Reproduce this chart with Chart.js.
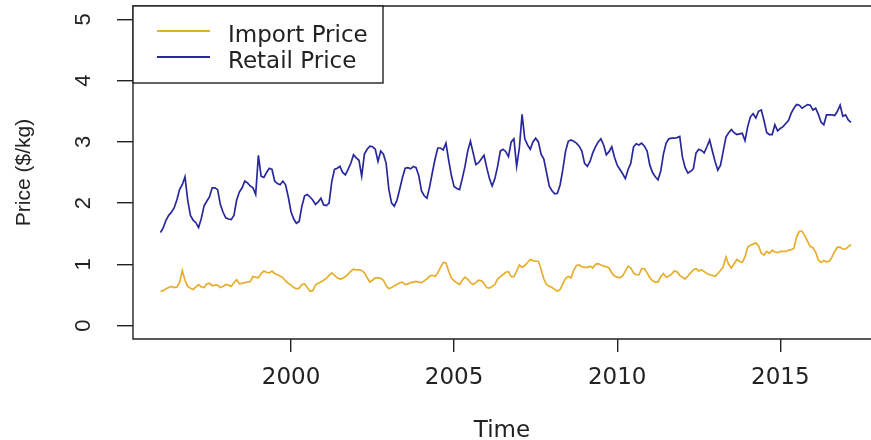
<!DOCTYPE html>
<html>
<head>
<meta charset="utf-8">
<title>Import and Retail Price</title>
<script src="https://cdn.jsdelivr.net/npm/chart.js@4.4.1/dist/chart.umd.min.js"></script>
<style>
  html, body { margin: 0; padding: 0; background: #fff; }
  #chart-wrap { width: 871px; height: 440px; }
</style>
</head>
<body>
<div id="chart-wrap"><canvas id="priceChart" width="871" height="440"></canvas></div>
<script>
// Monthly series, Jan 1996 - Mar 2017 ($/kg)
const startYear = 1996;

const retailPrice = [
    1.52, 1.60, 1.72, 1.80, 1.85, 1.92, 2.05, 2.22, 2.30, 2.43, 2.05, 1.80, // 1996
    1.72, 1.68, 1.60, 1.75, 1.95, 2.03, 2.10, 2.25, 2.25, 2.22, 1.98, 1.85, // 1997
    1.76, 1.74, 1.73, 1.80, 2.05, 2.18, 2.25, 2.36, 2.33, 2.28, 2.25, 2.14, // 1998
    2.78, 2.44, 2.42, 2.50, 2.57, 2.55, 2.36, 2.32, 2.30, 2.36, 2.30, 2.10, // 1999
    1.86, 1.74, 1.67, 1.70, 1.95, 2.12, 2.14, 2.10, 2.05, 1.98, 2.02, 2.08, // 2000
    1.97, 1.96, 2.00, 2.35, 2.55, 2.57, 2.60, 2.50, 2.46, 2.55, 2.65, 2.79, // 2001
    2.74, 2.70, 2.44, 2.80, 2.88, 2.93, 2.92, 2.88, 2.68, 2.85, 2.80, 2.65, // 2002
    2.22, 2.00, 1.95, 2.05, 2.23, 2.42, 2.57, 2.58, 2.56, 2.60, 2.58, 2.45, // 2003
    2.20, 2.12, 2.08, 2.27, 2.50, 2.72, 2.90, 2.90, 2.87, 2.98, 2.70, 2.45, // 2004
    2.27, 2.24, 2.22, 2.40, 2.60, 2.85, 3.01, 2.82, 2.63, 2.66, 2.72, 2.78, // 2005
    2.58, 2.40, 2.28, 2.40, 2.60, 2.85, 2.88, 2.84, 2.76, 3.00, 3.05, 2.60, // 2006
    2.90, 3.45, 3.05, 2.95, 2.88, 3.00, 3.06, 3.00, 2.80, 2.72, 2.50, 2.28, // 2007
    2.20, 2.15, 2.16, 2.30, 2.55, 2.85, 3.01, 3.03, 3.01, 2.98, 2.93, 2.85, // 2008
    2.65, 2.60, 2.68, 2.82, 2.92, 3.00, 3.05, 2.95, 2.79, 2.84, 2.92, 2.75, // 2009
    2.62, 2.55, 2.48, 2.40, 2.55, 2.65, 2.92, 2.97, 2.95, 2.98, 2.93, 2.85, // 2010
    2.62, 2.50, 2.43, 2.38, 2.52, 2.80, 2.98, 3.05, 3.06, 3.06, 3.07, 3.09, // 2011
    2.75, 2.58, 2.49, 2.52, 2.56, 2.82, 2.88, 2.86, 2.82, 2.92, 3.03, 2.85, // 2012
    2.68, 2.54, 2.62, 2.85, 3.08, 3.15, 3.20, 3.15, 3.12, 3.13, 3.14, 3.02, // 2013
    3.25, 3.41, 3.46, 3.39, 3.50, 3.52, 3.35, 3.15, 3.12, 3.12, 3.28, 3.18, // 2014
    3.22, 3.25, 3.30, 3.35, 3.47, 3.55, 3.61, 3.60, 3.55, 3.58, 3.61, 3.60, // 2015
    3.52, 3.55, 3.45, 3.32, 3.28, 3.44, 3.44, 3.44, 3.43, 3.50, 3.60, 3.42, // 2016
    3.44, 3.36, 3.32                                                        // 2017
];

const importPrice = [
    0.56, 0.57, 0.60, 0.62, 0.64, 0.62, 0.63, 0.70, 0.90, 0.74, 0.64, 0.61, // 1996
    0.59, 0.63, 0.67, 0.63, 0.62, 0.68, 0.69, 0.65, 0.66, 0.66, 0.62, 0.64, // 1997
    0.67, 0.66, 0.64, 0.70, 0.75, 0.68, 0.69, 0.70, 0.71, 0.72, 0.80, 0.79, // 1998
    0.78, 0.85, 0.89, 0.87, 0.86, 0.89, 0.85, 0.83, 0.81, 0.78, 0.73, 0.69, // 1999
    0.66, 0.62, 0.60, 0.61, 0.67, 0.68, 0.62, 0.56, 0.57, 0.66, 0.69, 0.71, // 2000
    0.74, 0.77, 0.82, 0.86, 0.82, 0.78, 0.76, 0.77, 0.80, 0.84, 0.89, 0.92, // 2001
    0.91, 0.91, 0.90, 0.86, 0.78, 0.71, 0.74, 0.78, 0.78, 0.77, 0.74, 0.65, // 2002
    0.60, 0.62, 0.65, 0.67, 0.70, 0.71, 0.67, 0.68, 0.70, 0.71, 0.72, 0.71, // 2003
    0.70, 0.73, 0.76, 0.81, 0.82, 0.80, 0.86, 0.95, 1.03, 1.02, 0.89, 0.78, // 2004
    0.73, 0.70, 0.67, 0.74, 0.79, 0.76, 0.70, 0.67, 0.70, 0.74, 0.73, 0.69, // 2005
    0.62, 0.61, 0.64, 0.67, 0.76, 0.80, 0.83, 0.87, 0.88, 0.80, 0.80, 0.89, // 2006
    0.99, 0.95, 0.98, 1.03, 1.08, 1.06, 1.05, 1.05, 0.92, 0.76, 0.67, 0.64, // 2007
    0.62, 0.59, 0.56, 0.59, 0.68, 0.77, 0.80, 0.78, 0.90, 0.98, 0.99, 0.96, // 2008
    0.95, 0.95, 0.97, 0.94, 1.00, 1.01, 0.99, 0.97, 0.96, 0.94, 0.86, 0.81, // 2009
    0.79, 0.78, 0.81, 0.89, 0.97, 0.94, 0.86, 0.83, 0.83, 0.93, 0.93, 0.86, // 2010
    0.78, 0.73, 0.71, 0.71, 0.80, 0.85, 0.79, 0.81, 0.84, 0.89, 0.88, 0.82, // 2011
    0.79, 0.76, 0.81, 0.86, 0.91, 0.93, 0.89, 0.91, 0.88, 0.85, 0.83, 0.82, // 2012
    0.80, 0.85, 0.90, 0.96, 1.12, 1.00, 0.94, 1.01, 1.08, 1.05, 1.03, 1.12, // 2013
    1.28, 1.31, 1.33, 1.35, 1.30, 1.18, 1.15, 1.21, 1.18, 1.23, 1.20, 1.19, // 2014
    1.21, 1.21, 1.21, 1.23, 1.24, 1.26, 1.45, 1.54, 1.54, 1.47, 1.38, 1.29, // 2015
    1.27, 1.20, 1.07, 1.03, 1.06, 1.04, 1.05, 1.12, 1.21, 1.28, 1.28, 1.25, // 2016
    1.25, 1.29, 1.32                                                        // 2017
];

const xTicks = [2000, 2005, 2010, 2015];
const yTicks = [0, 1, 2, 3, 4, 5];

const seriesLabels = ['Import Price', 'Retail Price'];
const seriesColors = ['#E6AE2E', '#28289C'];

const axisColor = '#222';
const textColor = '#222';

/**
 * Turn a monthly value list into {x, y} points (x = decimal year)
 */
function toPoints(values) {
    return values.map((v, i) => ({ x: startYear + i / 12, y: v }));
}

/**
 * R style box around the plot region (right side runs off the image)
 */
const plotFrame = {
    id: 'plotFrame',
    afterDraw(chart) {
        const { ctx, chartArea: a } = chart;
        ctx.save();
        ctx.strokeStyle = axisColor;
        ctx.lineWidth = 1.4;
        ctx.beginPath();
        ctx.moveTo(a.right + 2, a.top);
        ctx.lineTo(a.left, a.top);
        ctx.lineTo(a.left, a.bottom);
        ctx.lineTo(a.right + 2, a.bottom);
        ctx.stroke();
        ctx.restore();
    }
};

/**
 * Legend box in the top left corner
 */
const legendBox = {
    id: 'legendBox',
    afterDraw(chart) {
        const { ctx, chartArea: a } = chart;
        ctx.save();
        ctx.fillStyle = '#fff';
        ctx.fillRect(a.left, a.top, 250, 77);
        ctx.strokeStyle = axisColor;
        ctx.lineWidth = 1.4;
        ctx.strokeRect(a.left, a.top, 250, 77);

        ctx.font = '23px "DejaVu Sans"';
        ctx.textBaseline = 'alphabetic';
        ctx.textAlign = 'left';
        chart.data.datasets.forEach((ds, i) => {
            const y = a.top + 25 + i * 26;
            ctx.strokeStyle = ds.borderColor;
            ctx.lineWidth = 1.8;
            ctx.beginPath();
            ctx.moveTo(a.left + 24, y);
            ctx.lineTo(a.left + 77, y);
            ctx.stroke();
            ctx.fillStyle = textColor;
            ctx.fillText(ds.label, a.left + 95, y + 11);
        });
        ctx.restore();
    }
};

const ctx = document.getElementById('priceChart');

new Chart(ctx, {
    type: 'line',
    data: {
        datasets: [
            {
                label: seriesLabels[0],
                data: toPoints(importPrice),
                borderColor: seriesColors[0],
                borderWidth: 1.7,
                pointRadius: 0,
                tension: 0,
                fill: false
            },
            {
                label: seriesLabels[1],
                data: toPoints(retailPrice),
                borderColor: seriesColors[1],
                borderWidth: 1.7,
                pointRadius: 0,
                tension: 0,
                fill: false
            }
        ]
    },
    options: {
        responsive: false,
        devicePixelRatio: 1,
        animation: false,
        layout: {
            padding: { top: 6, left: 0, right: 0, bottom: 0 }
        },
        plugins: {
            legend: { display: false },
            tooltip: { enabled: false }
        },
        scales: {
            x: {
                type: 'linear',
                min: 1995.156,
                max: 2017.78,
                afterBuildTicks: (scale) => {
                    scale.ticks = xTicks.map(v => ({ value: v }));
                },
                afterFit: (scale) => {
                    scale.height = 101;
                    scale.paddingLeft = 0;
                    scale.paddingRight = 0;
                },
                border: { display: false },
                grid: {
                    drawOnChartArea: false,
                    drawTicks: true,
                    tickLength: 13,
                    color: axisColor,
                    lineWidth: 1.4
                },
                ticks: {
                    color: textColor,
                    font: { family: 'DejaVu Sans', size: 23 },
                    padding: 12,
                    maxRotation: 0,
                    autoSkip: false,
                    callback: (v) => String(v)
                },
                title: {
                    display: true,
                    text: 'Time',
                    color: textColor,
                    font: { family: 'DejaVu Sans', size: 23, lineHeight: 0.8 },
                    padding: 0
                }
            },
            y: {
                min: -0.22,
                max: 5.22,
                afterBuildTicks: (scale) => {
                    scale.ticks = yTicks.map(v => ({ value: v }));
                },
                afterFit: (scale) => {
                    // rotated labels would otherwise push the plot down
                    scale.width = 133;
                    scale.paddingTop = 0;
                    scale.paddingBottom = 0;
                },
                border: { display: false },
                grid: {
                    drawOnChartArea: false,
                    drawTicks: true,
                    tickLength: 16,
                    color: axisColor,
                    lineWidth: 1.4
                },
                ticks: {
                    color: textColor,
                    font: { family: 'Liberation Sans', size: 22 },
                    padding: 27,
                    minRotation: 90,
                    maxRotation: 90,
                    crossAlign: 'center',
                    callback: (v) => String(v)
                },
                title: {
                    display: true,
                    text: 'Price ($/kg)',
                    color: textColor,
                    font: { family: 'Liberation Sans', size: 21 },
                    padding: { top: 12, bottom: 0 }
                }
            }
        }
    },
    plugins: [plotFrame, legendBox]
});
</script>
</body>
</html>
